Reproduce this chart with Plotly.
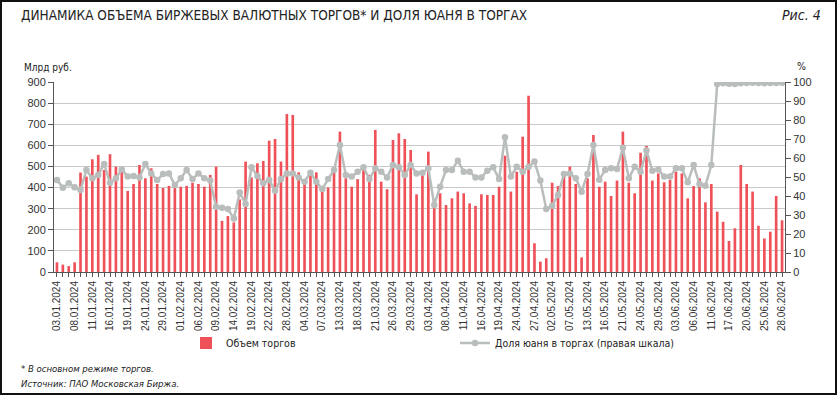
import plotly.graph_objects as go

dates = [
    "03.01.2024","04.01.2024","05.01.2024","08.01.2024","09.01.2024","10.01.2024","11.01.2024","12.01.2024",
    "15.01.2024","16.01.2024","17.01.2024","18.01.2024","19.01.2024","22.01.2024","23.01.2024","24.01.2024",
    "25.01.2024","26.01.2024","29.01.2024","30.01.2024","31.01.2024",
    "01.02.2024","02.02.2024","05.02.2024","06.02.2024","07.02.2024","08.02.2024","09.02.2024","12.02.2024",
    "13.02.2024","14.02.2024","15.02.2024","16.02.2024","19.02.2024","20.02.2024","21.02.2024","22.02.2024",
    "26.02.2024","27.02.2024","28.02.2024","29.02.2024",
    "01.03.2024","04.03.2024","05.03.2024","06.03.2024","07.03.2024","11.03.2024","12.03.2024","13.03.2024",
    "14.03.2024","15.03.2024","18.03.2024","19.03.2024","20.03.2024","21.03.2024","22.03.2024","25.03.2024",
    "26.03.2024","27.03.2024","28.03.2024","29.03.2024",
    "01.04.2024","02.04.2024","03.04.2024","04.04.2024","05.04.2024","08.04.2024","09.04.2024","10.04.2024",
    "11.04.2024","12.04.2024","15.04.2024","16.04.2024","17.04.2024","18.04.2024","19.04.2024","22.04.2024",
    "23.04.2024","24.04.2024","25.04.2024","26.04.2024","27.04.2024","29.04.2024","30.04.2024",
    "02.05.2024","03.05.2024","06.05.2024","07.05.2024","08.05.2024","10.05.2024","13.05.2024","14.05.2024",
    "15.05.2024","16.05.2024","17.05.2024","20.05.2024","21.05.2024","22.05.2024","23.05.2024","24.05.2024",
    "27.05.2024","28.05.2024","29.05.2024","30.05.2024","31.05.2024",
    "03.06.2024","04.06.2024","05.06.2024","06.06.2024","07.06.2024","10.06.2024","11.06.2024","13.06.2024",
    "14.06.2024","17.06.2024","18.06.2024","19.06.2024","20.06.2024","21.06.2024","24.06.2024","25.06.2024",
    "26.06.2024","27.06.2024","28.06.2024",
]

volume = [
    46, 35, 28, 46, 471, 452, 534, 555, 483, 558, 499, 496, 384, 417, 507, 444,
    491, 417, 398, 408, 400,
    404, 408, 423, 417, 404, 460, 499, 242, 265, 235, 344, 523, 448, 515, 526, 622,
    630, 523, 748, 744,
    472, 417, 467, 472, 380, 400, 475, 665, 444, 404, 440, 483, 460, 673, 428, 392,
    625, 657, 630, 578,
    368, 460, 570, 302, 373, 317, 349, 381, 373, 325, 313, 368, 365, 365, 404, 551,
    381, 475, 641, 835, 136, 49, 65,
    423, 407, 460, 499, 417, 69, 444, 649, 404, 428, 360, 433, 665, 423, 373, 565,
    597, 433, 467, 425, 436,
    475, 467, 349, 407, 444, 330, 417, 286, 238, 147, 207, 507, 417, 381, 219, 159,
    191, 360, 245,
]

yuan_share = [
    48.4, 44.4, 46.7, 44.6, 43.2, 53.7, 49.3, 51.1, 56.8, 47.0, 49.3, 54.0, 50.2, 50.5, 49.8, 56.8,
    51.9, 48.4, 51.6, 51.9, 45.8,
    49.3, 53.7, 48.9, 51.9, 49.3, 48.1, 34.4, 33.8, 33.1, 28.2, 41.8, 35.8, 55.1, 50.5, 46.7, 48.4,
    42.8, 48.9, 51.9, 51.9,
    49.8, 47.5, 52.3, 47.5, 43.7, 48.9, 53.7, 66.8, 51.1, 50.2, 52.8, 55.1, 48.9, 54.6, 52.8, 49.8,
    56.3, 55.1, 51.1, 56.3,
    51.9, 52.3, 54.6, 35.3, 44.9, 53.7, 53.7, 58.6, 52.8, 52.8, 49.8, 49.8, 53.3, 55.1, 48.9, 70.9,
    50.2, 55.4, 52.8, 55.4, 58.1, 48.1, 33.2,
    34.9, 40.5, 51.6, 51.9, 49.3, 42.3, 51.6, 66.8, 48.6, 53.7, 54.6, 54.2, 65.4, 49.3, 55.4, 52.8,
    63.9, 53.3, 54.0, 50.2, 50.2,
    54.6, 54.6, 47.2, 56.3, 46.3, 45.4, 56.3, 98.9, 99.3, 99.1, 99.0, 99.4, 99.5, 99.6, 99.5, 99.4,
    99.5, 99.5, 99.6,
]

left_ticks = [0, 100, 200, 300, 400, 500, 600, 700, 800, 900]
right_ticks = [0, 10, 20, 30, 40, 50, 60, 70, 80, 90, 100]
tick_labels = [d if i % 3 == 0 else "" for i, d in enumerate(dates)]

FONT = "Liberation Sans, Arial, sans-serif"
NARROW = "Liberation Sans Narrow, DejaVu Sans Condensed, Arial Narrow, sans-serif"
BAR_COLOR = "#ee5158"
LINE_COLOR = "#b9bdbc"

fig = go.Figure()
fig.add_trace(go.Bar(
    x=dates, y=volume, name="Объем торгов",
    marker=dict(color=BAR_COLOR, line=dict(width=0)),
))
fig.add_trace(go.Scatter(
    x=dates, y=yuan_share, name="Доля юаня в торгах (правая шкала)", yaxis="y2",
    mode="lines+markers",
    line=dict(color=LINE_COLOR, width=2.5),
    marker=dict(color=LINE_COLOR, size=6.5),
))

W, H = 837, 395
L, R, T, B = 54, 52, 82, 123
pw, ph = W - L - R, H - T - B

def px(x):
    return (x - L) / pw

def py(y):
    return (H - B - y) / ph

fig.update_layout(
    width=W, height=H,
    margin=dict(l=L, r=R, t=T, b=B),
    paper_bgcolor="white", plot_bgcolor="white",
    bargap=0.55,
    showlegend=True,
    font=dict(family=FONT, size=11, color="#222"),
    legend=dict(
        orientation="h", x=px(186), y=py(343), xanchor="left", yanchor="middle",
        entrywidth=224, entrywidthmode="pixels",
        font=dict(family=NARROW, size=10.5, color="#222"),
        bgcolor="rgba(0,0,0,0)",
    ),
    xaxis=dict(
        type="category",
        tickmode="array", tickvals=dates, ticktext=tick_labels,
        tickangle=-90, tickfont=dict(size=10, color="#333"),
        ticks="outside", ticklen=4, tickcolor="#555",
        showline=True, linecolor="#555", linewidth=1,
        showgrid=False, range=[-0.5, len(dates) - 0.5],
    ),
    yaxis=dict(
        range=[0, 900], tickmode="array", tickvals=left_ticks,
        ticks="outside", ticklen=5, tickcolor="#555",
        showline=True, linecolor="#555", linewidth=1,
        showgrid=True, gridcolor="#c9c9c9", gridwidth=1,
        tickfont=dict(size=11, color="#333"), zeroline=False,
    ),
    yaxis2=dict(
        range=[0, 100], tickmode="array", tickvals=right_ticks,
        overlaying="y", side="right",
        ticks="outside", ticklen=5, tickcolor="#555",
        showline=True, linecolor="#555", linewidth=1,
        showgrid=False, zeroline=False,
        tickfont=dict(size=11, color="#333"),
    ),
    annotations=[
        dict(text="ДИНАМИКА ОБЪЕМА БИРЖЕВЫХ ВАЛЮТНЫХ ТОРГОВ* И ДОЛЯ ЮАНЯ В ТОРГАХ",
             x=px(19), y=py(15), xref="paper", yref="paper", xanchor="left", yanchor="middle",
             showarrow=False, font=dict(family=NARROW, size=13.5, color="#222")),
        dict(text="<i>Рис. 4</i>",
             x=px(823), y=py(15), xref="paper", yref="paper", xanchor="right", yanchor="middle",
             showarrow=False, font=dict(family=NARROW, size=14, color="#222")),
        dict(text="Млрд руб.",
             x=px(22), y=py(67), xref="paper", yref="paper", xanchor="left", yanchor="middle",
             showarrow=False, font=dict(family=NARROW, size=10, color="#222")),
        dict(text="%",
             x=px(801), y=py(66), xref="paper", yref="paper", xanchor="center", yanchor="middle",
             showarrow=False, font=dict(family=NARROW, size=10.5, color="#222")),
        dict(text="<i>* В основном режиме торгов.</i>",
             x=px(19), y=py(368), xref="paper", yref="paper", xanchor="left", yanchor="middle",
             showarrow=False, font=dict(family=NARROW, size=9.5, color="#222")),
        dict(text="<i>Источник: ПАО Московская Биржа.</i>",
             x=px(19), y=py(383), xref="paper", yref="paper", xanchor="left", yanchor="middle",
             showarrow=False, font=dict(family=NARROW, size=9.5, color="#222")),
    ],
    shapes=[
        dict(type="rect", xref="paper", yref="paper",
             x0=px(1), x1=px(836), y0=py(394), y1=py(1),
             line=dict(color="#111", width=2), fillcolor="rgba(0,0,0,0)", layer="above"),
    ],
)

fig.write_html(
    "out.html",
    config={"displayModeBar": False},
    post_script="document.body.style.margin='0';document.body.style.overflow='hidden';",
)
